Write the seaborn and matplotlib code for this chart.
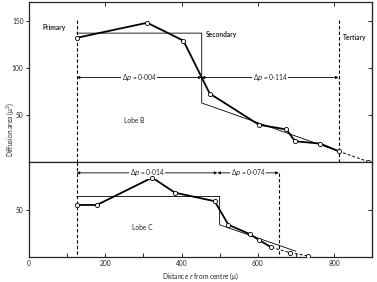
import numpy as np
import pandas as pd
import seaborn as sns
import matplotlib.pyplot as plt

# Lobe B (upper panel)
b_x = [125, 310, 405, 474, 603, 675, 698, 764, 812]
b_y = [132, 148, 129, 73, 40, 35, 22.5, 20, 12]
b_tail_x = [812, 889]
b_tail_y = [12, 1]
b_fit_x = [125, 453, 453, 812]
b_fit_y = [137, 137, 63, 12]

# Lobe C (lower panel)
c_x = [125, 178, 323, 383, 487, 523, 580, 603, 636]
c_y = [55, 55, 84, 68, 59, 34, 24, 18, 10]
c_tail_x = [636, 685, 732]
c_tail_y = [10, 4.5, 1]
c_fit_x = [125, 500, 500, 700]
c_fit_y = [64, 64, 34, 6]

sns.set_style('ticks')
plt.rcParams['font.family'] = ['Lato', 'DejaVu Sans']
plt.rcParams['mathtext.fontset'] = 'dejavusans'

fig = plt.figure(figsize=(3.77, 2.82), dpi=100)
gs = fig.add_gridspec(2, 1, height_ratios=[170, 100], hspace=0,
                      left=0.077, right=0.987, top=0.993, bottom=0.089)
ax1 = fig.add_subplot(gs[0])
ax2 = fig.add_subplot(gs[1], sharex=ax1)

fs = 4.8
mk = dict(marker='o', s=9, facecolor='white', edgecolor='black', linewidth=0.6, zorder=5)


def draw_lobe(ax, x, y, tx, ty, fx, fy):
    sns.lineplot(x=fx, y=fy, ax=ax, color='black', lw=0.6, sort=False, estimator=None)
    sns.lineplot(x=x, y=y, ax=ax, color='black', lw=1.3, sort=False, estimator=None)
    sns.lineplot(x=tx, y=ty, ax=ax, color='black', lw=0.7, linestyle=(0, (3, 2)),
                 sort=False, estimator=None)
    sns.scatterplot(x=x + tx[1:], y=y + ty[1:], ax=ax, **mk)


draw_lobe(ax1, b_x, b_y, b_tail_x, b_tail_y, b_fit_x, b_fit_y)
draw_lobe(ax2, c_x, c_y, c_tail_x, c_tail_y, c_fit_x, c_fit_y)

dash = dict(color='black', lw=0.8, linestyle=(0, (3, 2)))
ax1.plot([125, 125], [151, 0], **dash)
ax2.plot([125, 125], [100, 0], **dash)
ax1.plot([812, 812], [151, 0], **dash)
ax2.plot([655, 655], [89, 0], **dash)


def delta(ax, x0, x1, y, label):
    ax.annotate('', xy=(x0, y), xytext=(x1, y),
                arrowprops=dict(arrowstyle='<|-|>', color='black', lw=0.6,
                                mutation_scale=4, shrinkA=0, shrinkB=0))
    ax.text((x0 + x1) / 2, y, label, ha='center', va='center', fontsize=fs,
            bbox=dict(facecolor='white', edgecolor='none', pad=0.6))


delta(ax1, 125, 453, 90, 'Δ$\\it{p}$ = 0·004')
delta(ax1, 453, 812, 90, 'Δ$\\it{p}$ = 0·114')
delta(ax2, 125, 494, 89, 'Δ$\\it{p}$ = 0·014')
delta(ax2, 494, 655, 89, 'Δ$\\it{p}$ = 0·074')

ax1.text(35, 143, 'Primary', fontsize=fs, fontweight='bold', va='center')
ax1.text(463, 136, 'Secondary', fontsize=fs, fontweight='bold', va='center')
ax1.text(823, 132, 'Tertiary', fontsize=fs, fontweight='bold', va='center')
ax1.text(275, 44, 'Lobe B', fontsize=fs, ha='center', va='center')
ax2.text(296, 31, 'Lobe C', fontsize=fs, ha='center', va='center')

ax1.set_xlim(0, 900)
ax1.set_ylim(0, 170)
ax2.set_ylim(0, 100)

for ax in (ax1, ax2):
    for s in ax.spines.values():
        s.set_linewidth(0.9)
    ax.set_ylabel('')
    ax.tick_params(axis='y', direction='out', length=2.5, width=0.7, labelsize=fs, pad=1.5)

ax1.set_yticks([50, 100, 150])
ax2.set_yticks([50])

ax1.set_xticks([100, 200, 300, 400, 500, 600, 700, 800])
ax1.tick_params(axis='x', top=True, bottom=False, labelbottom=False,
                direction='in', length=3, width=0.7)
ax2.set_xticks([0, 200, 400, 600, 800])
ax2.set_xticks([100, 300, 500, 700], minor=True)
ax2.tick_params(axis='x', which='both', direction='in', length=3, width=0.7,
                labelsize=fs, pad=2)
ax2.tick_params(axis='x', which='minor', bottom=True)

for ax, t in ((ax1, [50, 100, 150]), (ax2, [50])):
    sec = ax.secondary_yaxis('right')
    sec.set_yticks(t)
    sec.tick_params(direction='in', length=3, width=0.7, labelright=False)

ax2.set_xlabel('Distance $\\it{r}$ from centre (μ)', fontsize=fs, labelpad=3)
fig.text(0.012, 0.54, 'Diffusion area (μ$^2$)', rotation=90, fontsize=fs,
         ha='left', va='center')

fig.savefig('out.png', dpi=100)
